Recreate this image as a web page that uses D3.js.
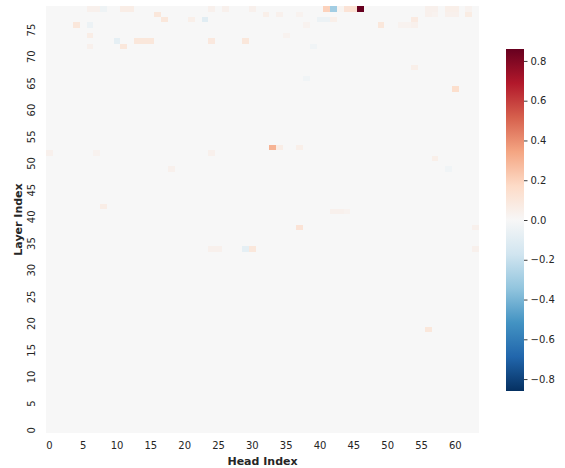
<!DOCTYPE html>
<html>
<head>
<meta charset="utf-8">
<script src="https://cdn.jsdelivr.net/npm/d3@7"></script>
<style>
  html, body { margin: 0; padding: 0; background: #ffffff; }
  svg { display: block; font-family: "DejaVu Sans", sans-serif; }
</style>
</head>
<body>
<svg id="chart" width="565" height="468"></svg>
<script>
// ---- data ----
const nHeads = 64;
const nLayers = 80;
const heads = d3.range(nHeads);
const layers = d3.range(nLayers);
const xTickLabels = [0, 5, 10, 15, 20, 25, 30, 35, 40, 45, 50, 55, 60];
const yTickLabels = [0, 5, 10, 15, 20, 25, 30, 35, 40, 45, 50, 55, 60, 65, 70, 75];
const colorbarTicks = [-0.8, -0.6, -0.4, -0.2, 0.0, 0.2, 0.4, 0.6, 0.8];
const vMax = 0.86;
const vMin = -0.86;
// cells that differ visibly from zero: [layer, head, value]; all others ~0
const cellLayer = [79,79,79,79,79,79,79,79,79,79,79,79,79,79,79,79,79,79,79,
  78,78,78,78,78,78,78,78,78,
  77,77,77,77,77,77,77,
  76,76,76,76,76,76,76,
  74,74,73,73,73,73,73,73,72,72,72,68,66,64,
  53,53,53,52,52,52,51,49,49,42,41,41,41,38,38,34,34,34,34,34,19];
const cellHead = [41,42,43,44,45,46,30,6,7,8,11,12,24,26,56,57,59,60,62,
  16,32,34,37,56,57,59,60,62,
  17,21,23,40,41,42,54,
  4,6,38,49,52,53,54,
  6,35,10,13,14,15,24,29,11,6,39,54,38,60,
  33,34,37,0,7,24,57,18,59,8,42,43,44,37,63,29,30,24,25,63,56];
const cellValue = [0.2,-0.3,0.02,0.12,0.13,0.86,0.04,0.04,0.04,-0.04,0.06,0.06,0.04,0.04,0.04,0.04,0.05,0.05,0.03,
  0.1,0.05,0.04,0.03,0.04,0.03,0.04,0.04,0.07,
  0.1,0.05,-0.1,-0.05,-0.05,0.05,0.08,
  0.1,-0.05,0.03,0.1,0.03,0.03,0.04,
  0.06,0.03,-0.08,0.1,0.1,0.1,0.09,0.1,0.1,0.04,-0.03,0.05,-0.03,0.15,
  0.3,0.06,0.05,0.04,0.03,0.04,0.05,0.04,-0.03,0.06,0.04,0.04,0.03,0.12,0.04,-0.08,0.1,0.04,0.04,0.04,0.1];
// RdBu (ColorBrewer 11) as used by matplotlib, high values -> red
const rdbuColors = ["#67001f","#b2182b","#d6604d","#f4a582","#fddbc7","#f7f7f7","#d1e5f0","#92c5de","#4393c3","#2166ac","#053061"];

// ---- build grid ----
const grid = [];
for (const l of layers) for (const h of heads) grid.push({layer: l, head: h, value: 0});
cellLayer.forEach((l, i) => { grid[l * nHeads + cellHead[i]].value = cellValue[i]; });

// ---- layout ----
const svg = d3.select("#chart");
const X0 = 46, X1 = 479, Y0 = 6, Y1 = 433;
const x = d3.scaleBand().domain(heads).range([X0, X1]).padding(0);
const y = d3.scaleBand().domain(layers).range([Y1, Y0]).padding(0);
const stopVals = d3.range(rdbuColors.length).map(i => vMax - i * (vMax - vMin) / (rdbuColors.length - 1));
const color = d3.scaleLinear().domain(stopVals).range(rdbuColors).interpolate(d3.interpolateRgb).clamp(true);
const textColor = "#262626";

svg.append("g").selectAll("rect").data(grid).join("rect")
  .attr("x", d => x(d.head))
  .attr("y", d => y(d.layer))
  .attr("width", x.bandwidth() + 0.3)
  .attr("height", y.bandwidth() + 0.3)
  .attr("fill", d => color(d.value))
  .attr("shape-rendering", "crispEdges");

// x tick labels
svg.append("g").selectAll("text").data(xTickLabels).join("text")
  .attr("x", d => x(d) + x.bandwidth() / 2)
  .attr("y", 449)
  .attr("text-anchor", "middle")
  .attr("font-size", 10)
  .attr("fill", textColor)
  .text(d => d);

// y tick labels (rotated)
svg.append("g").selectAll("text").data(yTickLabels).join("text")
  .attr("transform", d => `translate(35,${y(d) + y.bandwidth() / 2}) rotate(-90)`)
  .attr("text-anchor", "middle")
  .attr("font-size", 10)
  .attr("fill", textColor)
  .text(d => d);

// axis titles
svg.append("text")
  .attr("x", (X0 + X1) / 2).attr("y", 465)
  .attr("text-anchor", "middle")
  .attr("font-size", 11).attr("font-weight", "bold")
  .attr("fill", textColor)
  .text("Head Index");
svg.append("text")
  .attr("transform", `translate(22,${(Y0 + Y1) / 2}) rotate(-90)`)
  .attr("text-anchor", "middle")
  .attr("font-size", 11).attr("font-weight", "bold")
  .attr("fill", textColor)
  .text("Layer Index");

// colorbar
const CB_X = 506, CB_W = 18, CB_Y0 = 49, CB_Y1 = 391;
const cbScale = d3.scaleLinear().domain([vMin, vMax]).range([CB_Y1, CB_Y0]);
const defs = svg.append("defs");
const grad = defs.append("linearGradient").attr("id", "cbgrad")
  .attr("x1", 0).attr("y1", 0).attr("x2", 0).attr("y2", 1);
rdbuColors.forEach((c, i) => {
  grad.append("stop").attr("offset", i / (rdbuColors.length - 1)).attr("stop-color", c);
});
svg.append("rect")
  .attr("x", CB_X).attr("y", CB_Y0)
  .attr("width", CB_W).attr("height", CB_Y1 - CB_Y0)
  .attr("fill", "url(#cbgrad)");
const cbAxis = d3.axisRight(cbScale)
  .tickValues(colorbarTicks)
  .tickSize(3.5)
  .tickPadding(3)
  .tickFormat(d3.format(".1f"));
const cbG = svg.append("g")
  .attr("transform", `translate(${CB_X + CB_W},0)`)
  .call(cbAxis);
cbG.select(".domain").remove();
cbG.selectAll(".tick line").attr("stroke", textColor).attr("stroke-width", 0.9);
cbG.selectAll(".tick text")
  .attr("font-size", 10)
  .attr("font-family", "DejaVu Sans, sans-serif")
  .attr("fill", textColor);
</script>
</body>
</html>
